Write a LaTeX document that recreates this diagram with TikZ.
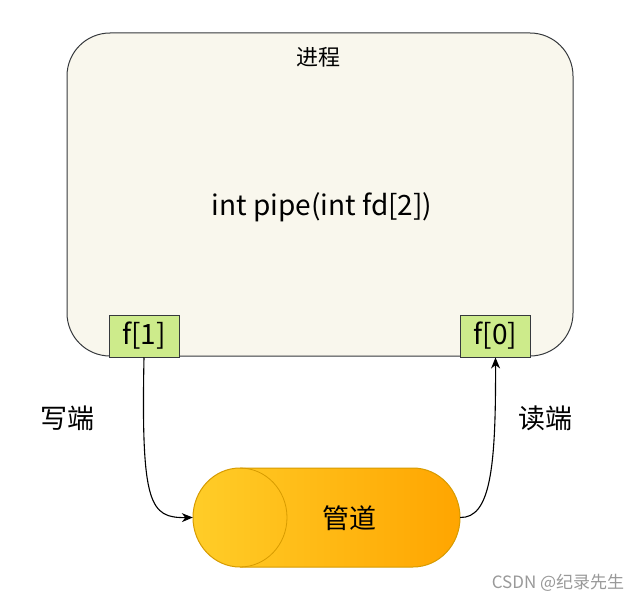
\documentclass[tikz,border=0pt]{standalone}
\usepackage{fontspec}
\setmainfont{Noto Sans CJK SC}
\usetikzlibrary{arrows.meta}
\definecolor{procfill}{HTML}{F9F7ED}
\definecolor{darkline}{HTML}{36393D}
\definecolor{fdfill}{HTML}{CDEB8B}
\definecolor{pipeL}{HTML}{FFCD28}
\definecolor{pipeR}{HTML}{FFA500}
\definecolor{pipeline}{HTML}{D79B00}
\begin{document}
\begin{tikzpicture}[x=1pt, y=-1pt, > = {Stealth[length=11pt, width=9pt, inset=3.5pt]},
    procbox/.style = {draw=darkline, line width=1pt, fill=procfill, rounded corners=43pt,
        minimum width=506pt, minimum height=323pt},
    fdbox/.style = {draw=darkline, line width=1pt, fill=fdfill, inner sep=0pt,
        minimum width=70pt, minimum height=42pt, font=\fontsize{28}{32}\selectfont},
    tag/.style = {font=\fontsize{27}{32}\selectfont}]
    \def\rx{47pt}
    \def\ry{49.5pt}
    \useasboundingbox [fill=white] (0, 0) rectangle (642, 602);
    % Process
    \node [procbox] (proc) at (320, 194.5) {};
    \node [font=\fontsize{22}{26}\selectfont] (title) at (318, 57) {进程};
    \node [font=\fontsize{28}{32}\selectfont] (call) at (322, 207) {int pipe(int fd[2])};
    \node [fdbox] (fone) at (144, 336) {f[1]};
    \node [fdbox] (fzero) at (495.5, 336) {f[0]};
    % Pipe
    \shade [left color=pipeL, right color=pipeR]
        (240, 468) -- (413, 468) arc [start angle=90, end angle=-90, x radius=\rx, y radius=\ry]
        -- (240, 567) arc [start angle=-90, end angle=-270, x radius=\rx, y radius=\ry] -- cycle;
    \draw [pipeline, line width=1pt]
        (240, 468) -- (413, 468) arc [start angle=90, end angle=-90, x radius=\rx, y radius=\ry]
        -- (240, 567) arc [start angle=-90, end angle=-270, x radius=\rx, y radius=\ry] -- cycle;
    \draw [pipeline, line width=0.8pt]
        (240, 468) arc [start angle=90, end angle=-90, x radius=\rx, y radius=\ry];
    \node [minimum width=267pt, minimum height=99pt] (pipe) at (326.5, 517.5) {};
    \node [tag] (pipename) at (349, 518) {管道};
    % Ends
    \draw [->, line width=1.1pt] (fone.south) .. controls (141, 505) and (150, 518) .. (pipe.west);
    \draw [->, line width=1.1pt] (pipe.east) .. controls (490, 518) and (496, 470) .. (fzero.south);
    \node [tag] (wend) at (67, 418) {写端};
    \node [tag] (rend) at (545, 418) {读端};
    \node [font=\fontsize{17}{20}\selectfont, text=black!40] (mark) at (558, 583) {CSDN @纪录先生};
\end{tikzpicture}
\end{document}
